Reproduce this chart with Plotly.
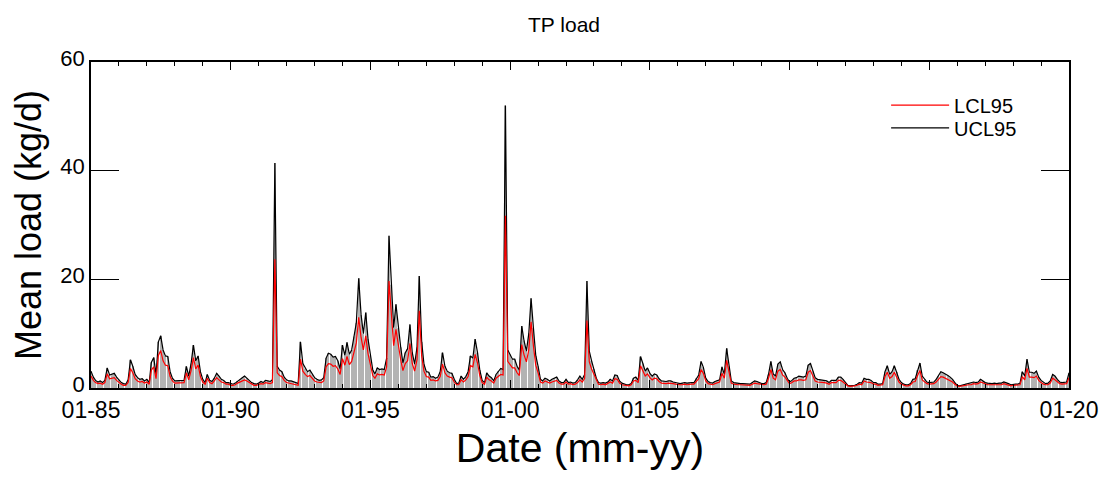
import pandas as pd
import plotly.graph_objects as go

# Monthly dates, Jan 1985 .. Jan 2020
months = pd.date_range("1985-01-01", "2020-01-01", freq="MS")

# Upper 95% confidence limit of mean load (kg/d), one row per year
ucl = [
    3.1, 2.0, 1.4, 1.1, 1.3, 1.0, 1.4, 3.7, 2.4, 2.5, 2.7, 2.0,      # 1985
    1.5, 1.0, 0.8, 0.7, 1.5, 5.2, 4.0, 2.5, 1.9, 1.6, 1.7, 1.3,      # 1986
    1.6, 1.0, 4.7, 5.6, 2.5, 8.5, 9.6, 7.0, 5.9, 5.8, 3.0, 1.8,      # 1987
    1.3, 1.3, 1.3, 1.3, 1.4, 4.0, 2.2, 4.5, 7.9, 5.0, 5.9, 3.0,      # 1988
    1.6, 1.0, 2.5, 1.4, 1.2, 1.8, 2.7, 2.2, 1.6, 1.4, 1.0, 1.0,      # 1989
    0.8, 0.7, 0.9, 1.3, 1.6, 1.9, 2.2, 1.8, 1.4, 1.0, 0.8, 0.7,      # 1990
    0.9, 1.2, 1.0, 1.4, 1.3, 1.2, 1.5, 41.4, 4.0, 3.3, 3.0, 2.0,     # 1991
    1.5, 1.3, 1.3, 1.2, 1.0, 0.8, 8.5, 4.5, 3.6, 3.0, 3.3, 2.5,      # 1992
    1.9, 1.6, 1.4, 1.5, 1.9, 5.5, 6.4, 6.2, 5.7, 5.8, 5.0, 3.5,      # 1993
    7.9, 6.0, 8.4, 6.2, 7.0, 9.5, 12.0, 20.2, 13.5, 10.0, 13.9, 9.0, # 1994
    6.0, 3.3, 2.6, 3.7, 3.4, 3.5, 3.4, 5.5, 28.0, 19.0, 11.1, 15.4,  # 1995
    11.0, 7.5, 4.6, 6.5, 7.2, 11.7, 6.5, 4.4, 7.5, 20.6, 8.5, 4.4,   # 1996
    3.0, 2.9, 2.0, 2.1, 1.8, 2.0, 3.0, 6.5, 4.0, 3.1, 2.8, 2.7,      # 1997
    1.6, 0.8, 0.9, 2.2, 1.6, 2.1, 3.0, 5.9, 5.5, 9.0, 6.5, 3.3,      # 1998
    1.4, 1.0, 2.8, 2.2, 1.9, 1.3, 2.5, 3.1, 3.6, 3.4, 52.0, 7.0,     # 1999
    6.2, 5.3, 5.3, 4.0, 3.3, 11.4, 8.7, 6.8, 10.0, 16.5, 11.0, 6.0,  # 2000
    4.0, 1.6, 1.3, 1.8, 1.6, 1.3, 1.6, 1.8, 2.0, 1.3, 1.0, 1.0,      # 2001
    1.6, 1.0, 1.1, 0.9, 1.0, 1.5, 2.2, 1.6, 2.5, 19.7, 6.8, 5.0,     # 2002
    3.5, 1.8, 1.0, 0.9, 1.0, 0.9, 1.1, 1.6, 1.3, 2.4, 2.3, 1.3,      # 2003
    0.9, 0.7, 0.6, 0.6, 0.8, 1.8, 2.0, 1.4, 5.8, 4.5, 3.1, 3.7,      # 2004
    2.7, 2.2, 2.6, 2.4, 1.7, 1.3, 1.2, 1.2, 1.3, 1.3, 1.1, 1.0,      # 2005
    0.9, 0.8, 0.9, 1.0, 0.9, 1.0, 1.0, 1.0, 1.8, 2.4, 4.9, 3.8,      # 2006
    1.8, 1.2, 1.0, 0.9, 1.2, 1.4, 1.5, 3.9, 2.5, 7.3, 4.0, 1.3,      # 2007
    1.0, 0.9, 0.8, 0.8, 0.8, 0.8, 0.7, 0.7, 1.0, 1.3, 1.2, 1.0,      # 2008
    0.8, 0.8, 1.0, 2.5, 4.9, 2.6, 2.2, 4.4, 4.8, 3.4, 2.8, 1.8,      # 2009
    1.1, 1.4, 1.8, 1.9, 2.2, 2.1, 2.0, 2.2, 4.2, 4.5, 3.1, 1.9,      # 2010
    1.6, 1.5, 1.4, 1.4, 1.3, 1.0, 1.4, 1.4, 1.4, 2.0, 2.0, 1.6,      # 2011
    1.0, 0.5, 0.4, 0.4, 0.5, 0.7, 1.0, 0.9, 1.8, 1.6, 1.6, 1.4,      # 2012
    1.0, 1.0, 0.7, 0.7, 0.8, 3.0, 4.1, 2.5, 3.0, 4.1, 3.0, 1.6,      # 2013
    1.0, 0.7, 0.6, 0.6, 0.8, 1.6, 1.7, 3.3, 4.6, 2.2, 1.6, 1.1,      # 2014
    1.0, 1.0, 1.1, 1.6, 2.2, 3.0, 2.8, 2.6, 2.3, 2.0, 1.6, 1.0,      # 2015
    0.5, 0.4, 0.5, 0.6, 0.8, 0.9, 0.9, 1.1, 1.0, 1.1, 1.6, 1.3,      # 2016
    1.0, 0.9, 0.8, 0.8, 0.9, 0.8, 0.9, 0.9, 1.1, 1.0, 0.8, 0.6,      # 2017
    0.7, 0.7, 0.7, 0.9, 3.0, 2.2, 5.3, 2.9, 2.9, 2.7, 3.1, 2.0,      # 2018
    1.4, 1.0, 0.8, 0.9, 1.3, 2.5, 2.2, 1.6, 1.1, 1.0, 1.0, 1.1,      # 2019
    2.8,                                                             # 2020
]

# Lower 95% confidence limit of mean load (kg/d)
lcl = [
    2.2, 1.4, 1.0, 0.8, 0.9, 0.7, 1.0, 2.6, 1.7, 1.8, 1.9, 1.4,      # 1985
    1.0, 0.7, 0.5, 0.5, 1.0, 3.6, 2.8, 1.7, 1.3, 1.1, 1.2, 0.9,      # 1986
    1.1, 0.7, 3.3, 3.9, 1.7, 6.0, 6.9, 5.0, 4.2, 4.1, 2.1, 1.3,      # 1987
    0.9, 0.9, 0.9, 0.9, 1.0, 2.8, 1.5, 3.2, 5.6, 3.5, 4.2, 2.1,      # 1988
    1.1, 0.7, 1.8, 1.0, 0.8, 1.3, 1.9, 1.5, 1.1, 1.0, 0.7, 0.7,      # 1989
    0.5, 0.5, 0.6, 0.9, 1.1, 1.3, 1.5, 1.3, 1.0, 0.7, 0.5, 0.5,      # 1990
    0.6, 0.8, 0.7, 1.0, 0.9, 0.8, 1.0, 23.7, 2.8, 2.3, 2.1, 1.4,     # 1991
    1.0, 0.9, 0.9, 0.8, 0.7, 0.5, 5.3, 3.1, 2.5, 2.1, 2.3, 1.7,      # 1992
    1.3, 1.1, 1.0, 1.0, 1.3, 3.9, 4.5, 4.4, 4.0, 4.1, 3.5, 2.5,      # 1993
    5.4, 4.2, 5.8, 4.3, 4.9, 6.6, 8.3, 13.0, 9.3, 7.0, 9.6, 6.3,     # 1994
    4.2, 2.3, 1.8, 2.6, 2.4, 2.5, 2.4, 3.9, 19.7, 13.3, 7.8, 10.8,   # 1995
    7.7, 5.2, 3.2, 4.5, 5.0, 8.2, 4.5, 3.1, 5.2, 14.2, 5.9, 3.1,     # 1996
    2.1, 2.0, 1.4, 1.5, 1.3, 1.4, 2.1, 4.4, 2.8, 2.2, 2.0, 1.9,      # 1997
    1.1, 0.6, 0.6, 1.5, 1.1, 1.5, 2.1, 4.1, 3.9, 6.2, 4.6, 2.3,      # 1998
    1.0, 0.7, 2.0, 1.5, 1.3, 0.9, 1.8, 2.2, 2.5, 2.4, 31.7, 4.9,     # 1999
    4.3, 3.7, 3.7, 2.8, 2.3, 8.0, 6.1, 4.8, 7.0, 12.2, 7.7, 4.2,     # 2000
    2.8, 1.1, 0.9, 1.3, 1.1, 0.9, 1.1, 1.3, 1.4, 0.9, 0.7, 0.7,      # 2001
    1.1, 0.7, 0.8, 0.6, 0.7, 1.0, 1.5, 1.1, 1.8, 12.4, 4.8, 3.5,     # 2002
    2.5, 1.3, 0.7, 0.6, 0.7, 0.6, 0.8, 1.1, 0.9, 1.7, 1.6, 0.9,      # 2003
    0.6, 0.5, 0.4, 0.4, 0.6, 1.3, 1.4, 1.0, 4.1, 3.2, 2.2, 2.6,      # 2004
    1.9, 1.5, 1.8, 1.7, 1.2, 0.9, 0.8, 0.8, 0.9, 0.9, 0.8, 0.7,      # 2005
    0.6, 0.6, 0.6, 0.7, 0.6, 0.7, 0.7, 0.7, 1.3, 1.7, 3.4, 2.7,      # 2006
    1.3, 0.8, 0.7, 0.6, 0.8, 1.0, 1.1, 2.7, 1.8, 5.1, 2.8, 0.9,      # 2007
    0.7, 0.6, 0.6, 0.6, 0.6, 0.6, 0.5, 0.5, 0.7, 0.9, 0.8, 0.7,      # 2008
    0.6, 0.6, 0.7, 1.8, 3.4, 1.8, 1.5, 3.1, 3.4, 2.4, 2.0, 1.3,      # 2009
    0.8, 1.0, 1.3, 1.3, 1.5, 1.5, 1.4, 1.5, 2.9, 3.2, 2.2, 1.3,      # 2010
    1.1, 1.1, 1.0, 1.0, 0.9, 0.7, 1.0, 1.0, 1.0, 1.4, 1.4, 1.1,      # 2011
    0.7, 0.4, 0.3, 0.3, 0.4, 0.5, 0.7, 0.6, 1.3, 1.1, 1.1, 1.0,      # 2012
    0.7, 0.7, 0.5, 0.5, 0.6, 2.1, 2.9, 1.8, 2.1, 2.9, 2.1, 1.1,      # 2013
    0.7, 0.5, 0.4, 0.4, 0.6, 1.1, 1.2, 2.3, 3.2, 1.5, 1.1, 0.8,      # 2014
    0.7, 0.7, 0.8, 1.1, 1.5, 2.1, 2.0, 1.8, 1.6, 1.4, 1.1, 0.7,      # 2015
    0.4, 0.3, 0.4, 0.4, 0.6, 0.6, 0.6, 0.8, 0.7, 0.8, 1.1, 0.9,      # 2016
    0.7, 0.6, 0.6, 0.6, 0.6, 0.6, 0.6, 0.6, 0.8, 0.7, 0.6, 0.4,      # 2017
    0.5, 0.5, 0.5, 0.6, 2.1, 1.5, 3.6, 2.0, 2.0, 1.9, 2.2, 1.4,      # 2018
    1.0, 0.7, 0.6, 0.6, 0.9, 1.8, 1.5, 1.1, 0.8, 0.7, 0.7, 0.8,      # 2019
    1.9,                                                             # 2020
]

y_ticks = [0, 20, 40, 60]
x_ticks = ["1985-01-01", "1990-01-01", "1995-01-01", "2000-01-01",
           "2005-01-01", "2010-01-01", "2015-01-01", "2020-01-01"]

FONT = "Liberation Sans, Arial, sans-serif"

fig = go.Figure()
fig.add_trace(go.Bar(x=months, y=ucl, marker=dict(color="#b3b3b3", line=dict(width=0)),
                     showlegend=False, hoverinfo="skip"))
fig.add_trace(go.Scatter(x=months, y=ucl, mode="lines", name="UCL95",
                         line=dict(color="black", width=1.2), legend="legend2"))
fig.add_trace(go.Scatter(x=months, y=lcl, mode="lines", name="LCL95",
                         line=dict(color="red", width=1.2), legend="legend"))

legend_common = dict(xanchor="left", yanchor="middle", bgcolor="rgba(0,0,0,0)",
                     font=dict(size=20, family=FONT), itemwidth=58)

fig.update_layout(
    width=1109, height=478,
    margin=dict(l=91, r=40, t=62, b=90),
    paper_bgcolor="white", plot_bgcolor="white",
    font=dict(family=FONT, color="black"),
    bargap=0.42,
    title=dict(text="TP load", x=564 / 1109, xanchor="center", y=1 - 25 / 478,
               yanchor="middle", font=dict(size=21, family=FONT, color="black")),
    legend=dict(x=0.813, y=0.868, **legend_common),
    legend2=dict(x=0.813, y=0.798, **legend_common),
    showlegend=True,
)
fig.update_xaxes(
    type="date", range=["1985-01-01", "2020-01-01"],
    tickvals=x_ticks, tickformat="%m-%y",
    ticks="inside", ticklen=8, tickwidth=1.2, tickcolor="black",
    minor=dict(dtick="M12", tick0="1985-01-01", ticks="inside", ticklen=4,
               tickwidth=1, tickcolor="black", showgrid=False),
    showline=True, linecolor="black", linewidth=1.5, mirror="allticks",
    showgrid=False, zeroline=False,
    tickfont=dict(size=23, family=FONT), ticklabelstandoff=1,
    title=dict(text="Date (mm-yy)", font=dict(size=41, family=FONT), standoff=11),
)
fig.update_yaxes(
    range=[0, 60], tickvals=y_ticks,
    ticks="inside", ticklen=28, tickwidth=1.2, tickcolor="black",
    showline=True, linecolor="black", linewidth=1.5, mirror="allticks",
    showgrid=False, zeroline=False,
    tickfont=dict(size=22, family=FONT), ticklabelshift=-4,
    title=dict(text="Mean load (kg/d)", font=dict(size=36, family=FONT), standoff=8),
)

fig.write_html("out.html")
